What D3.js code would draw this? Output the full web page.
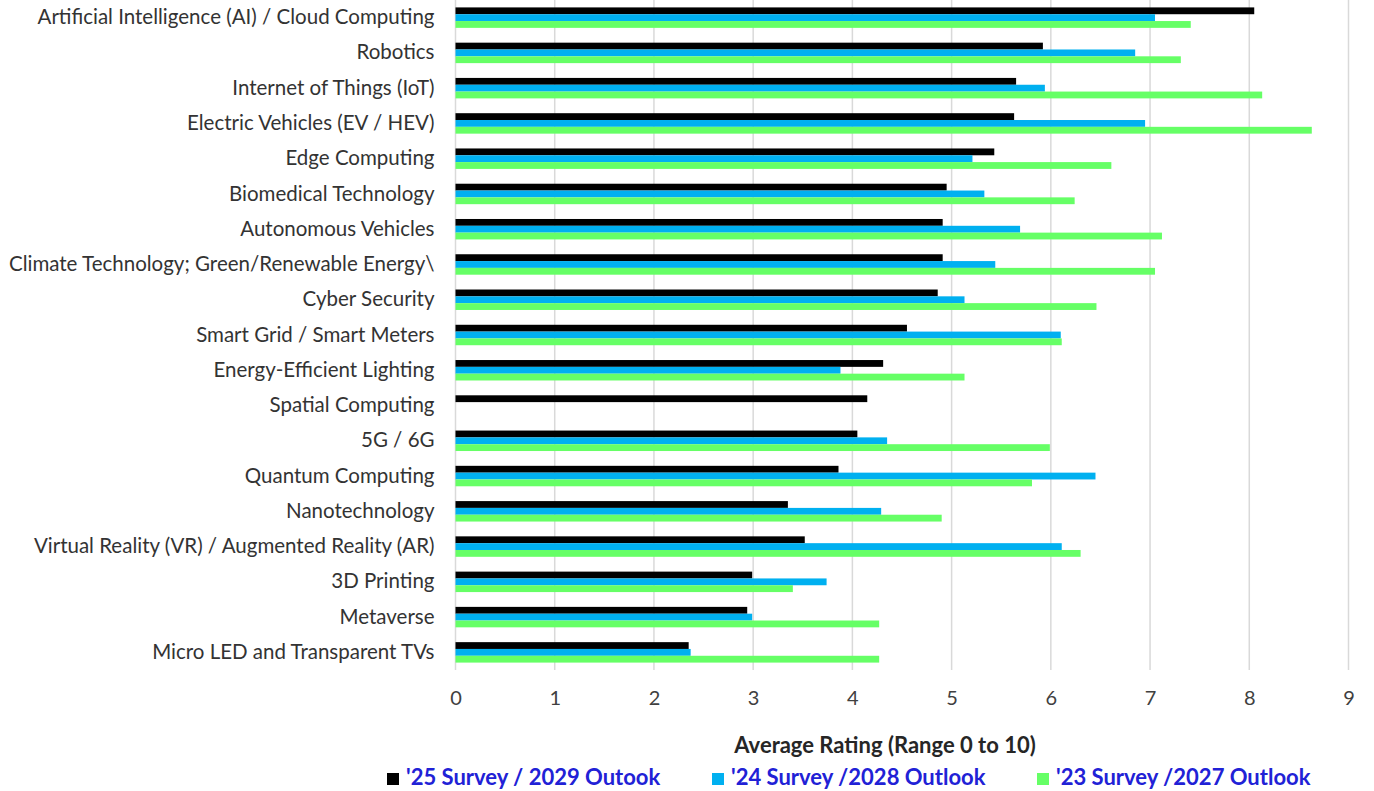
<!DOCTYPE html>
<html>
	<head>
		<meta charset="utf-8">
		<title>Technology outlook ratings</title>
		<script src="https://d3js.org/d3.v7.min.js"></script>
		<style>
			body { margin: 0; background: #fff; }
		</style>
	</head>
	<body>
		<script>
			var w = 1374;
			var h = 791;

			var categories = [
				"Artificial Intelligence (AI) / Cloud Computing",
				"Robotics",
				"Internet of Things (IoT)",
				"Electric Vehicles (EV / HEV)",
				"Edge Computing",
				"Biomedical Technology",
				"Autonomous Vehicles",
				"Climate Technology; Green/Renewable Energy\\",
				"Cyber Security",
				"Smart Grid / Smart Meters",
				"Energy-Efficient Lighting",
				"Spatial Computing",
				"5G / 6G",
				"Quantum Computing",
				"Nanotechnology",
				"Virtual Reality (VR) / Augmented Reality (AR)",
				"3D Printing",
				"Metaverse",
				"Micro LED and Transparent TVs"
			];

			var series = ["'25 Survey / 2029 Outook", "'24 Survey /2028 Outlook", "'23 Survey /2027 Outlook"];
			var colors = ["#000000", "#00b0f0", "#66ff66"];

			var survey25 = [8.05, 5.92, 5.65, 5.63, 5.43, 4.95, 4.91, 4.91, 4.86, 4.55, 4.31, 4.15, 4.05, 3.86, 3.35, 3.52, 2.99, 2.94, 2.35];
			var survey24 = [7.05, 6.85, 5.94, 6.95, 5.21, 5.33, 5.69, 5.44, 5.13, 6.10, 3.88, 0, 4.35, 6.45, 4.29, 6.11, 3.74, 2.99, 2.37];
			var survey23 = [7.41, 7.31, 8.13, 8.63, 6.61, 6.24, 7.12, 7.05, 6.46, 6.11, 5.13, 0, 5.99, 5.81, 4.90, 6.30, 3.40, 4.27, 4.27];

			var xTicks = [0, 1, 2, 3, 4, 5, 6, 7, 8, 9];

			var values = [survey25, survey24, survey23];

			var plotLeft = 455.5, plotRight = 1348.5, plotTop = 0, plotH = 670;

			var xScale = d3.scaleLinear()
				.domain([0, 9])
				.range([plotLeft, plotRight]);

			var yScale = d3.scaleBand()
				.domain(categories)
				.range([plotTop, plotTop + plotH])
				.paddingInner(0.42)
				.paddingOuter(0.21);

			var inner = d3.scaleBand()
				.domain(series)
				.range([0, yScale.bandwidth()]);

			var svg = d3.select("body")
				.append("svg")
				.attr("width", w)
				.attr("height", h);

			// gridlines
			svg.append("g")
				.selectAll("line")
				.data(xTicks)
				.enter()
				.append("line")
				.attr("x1", d => xScale(d))
				.attr("x2", d => xScale(d))
				.attr("y1", plotTop)
				.attr("y2", plotTop + plotH)
				.attr("stroke", "#d9d9d9")
				.attr("stroke-width", 1.5);

			// bars
			series.forEach(function(s, si) {
				svg.append("g")
					.selectAll("rect")
					.data(categories)
					.enter()
					.append("rect")
					.attr("x", xScale(0))
					.attr("y", d => yScale(d) + inner(s))
					.attr("width", (d, i) => xScale(values[si][i]) - xScale(0))
					.attr("height", inner.bandwidth())
					.attr("fill", colors[si]);
			});

			// category labels
			var yAxis = d3.axisLeft(yScale).tickSize(0).tickPadding(21);
			var yG = svg.append("g")
				.attr("transform", "translate(" + plotLeft + ",0)")
				.call(yAxis);
			yG.select(".domain").remove();
			yG.selectAll("text")
				.attr("font-family", "Lato")
				.attr("font-size", 20.5)
				.attr("fill", "#333333");

			// x axis
			var xAxis = d3.axisBottom(xScale).tickValues(xTicks).tickSize(0).tickPadding(0);
			var xG = svg.append("g")
				.attr("transform", "translate(0," + 691 + ")")
				.call(xAxis);
			xG.select(".domain").remove();
			xG.selectAll("text")
				.attr("font-family", "Lato")
				.attr("font-size", 20)
				.attr("fill", "#404040");

			svg.append("text")
				.attr("x", 885)
				.attr("y", 753)
				.attr("text-anchor", "middle")
				.attr("font-family", "Lato")
				.attr("font-weight", "bold")
				.attr("font-size", 22)
				.attr("fill", "#262626")
				.text("Average Rating (Range 0 to 10)");

			// legend
			var legendX = [387, 712, 1037];
			var lg = svg.append("g")
				.selectAll("g")
				.data(series)
				.enter()
				.append("g")
				.attr("transform", (d, i) => "translate(" + legendX[i] + ",773)");
			lg.append("rect")
				.attr("width", 12)
				.attr("height", 12)
				.attr("fill", (d, i) => colors[i]);
			lg.append("text")
				.attr("x", 19)
				.attr("y", 12)
				.attr("font-family", "Lato")
				.attr("font-weight", "bold")
				.attr("font-size", 22)
				.attr("fill", "#2121d6")
				.text(d => d);
		</script>
	</body>
</html>
